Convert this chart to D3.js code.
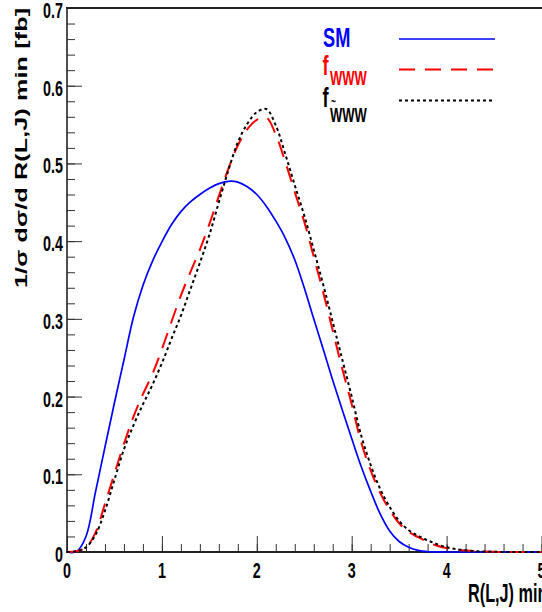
<!DOCTYPE html>
<html>
<head>
<meta charset="utf-8">
<script src="https://cdn.jsdelivr.net/npm/d3@7"></script>
<style>
  body { margin: 0; background: #fff; }
  text { font-family: "Liberation Sans", Arial, sans-serif; font-weight: bold; }
</style>
</head>
<body>
<svg id="chart" width="542" height="612"></svg>
<script>
// R(L,J) min bins
const xVals = [0,0.1,0.2,0.3,0.4,0.5,0.6,0.7,0.8,0.9,1.0,1.1,1.2,1.3,1.4,1.5,1.6,1.7,1.8,1.9,2.0,
  2.1,2.2,2.3,2.4,2.5,2.6,2.7,2.8,2.9,3.0,3.1,3.2,3.3,3.4,3.5,3.6,3.7,3.8,3.9,4.0,
  4.1,4.2,4.3,4.4,4.5,4.6,4.7,4.8,4.9,5.0]

const smVals = [0,0.0005,0.02,0.077,0.135,0.192,0.247,0.302,0.343,0.374,0.399,0.421,0.438,0.4505,0.460,0.468,0.474,0.477,0.476,0.470,0.460,
  0.445,0.426,0.404,0.376,0.340,0.300,0.261,0.221,0.183,0.146,0.110,0.078,0.049,0.027,0.0135,0.006,0.002,0.0005,0.0002,0,
  0,0,0,0,0,0,0,0,0,0]

const fwwwVals = [0,0.001,0.006,0.025,0.062,0.101,0.139,0.174,0.203,0.229,0.261,0.296,0.330,0.360,0.389,0.422,0.458,0.493,0.523,0.544,0.556,
  0.559,0.537,0.502,0.463,0.425,0.380,0.334,0.285,0.236,0.190,0.141,0.105,0.076,0.054,0.037,0.026,0.019,0.013,0.008,0.005,
  0.003,0.0018,0.001,0.0005,0.0002,0,0,0,0,0]

const ftwwwVals = [0,0.001,0.006,0.022,0.053,0.093,0.132,0.163,0.190,0.215,0.243,0.274,0.304,0.338,0.372,0.408,0.450,0.491,0.527,0.551,0.566,
  0.570,0.549,0.512,0.472,0.433,0.389,0.344,0.296,0.248,0.200,0.150,0.112,0.081,0.058,0.040,0.028,0.021,0.015,0.010,0.006,
  0.0037,0.0022,0.0012,0.0006,0.0003,0.0001,0,0,0,0]

const xTickLabels = ["0","1","2","3","4","5"]
const yTickLabels = ["0","0.1","0.2","0.3","0.4","0.5","0.6","0.7"]

const condense = 0.65
const svg = d3.select("#chart")

const x = d3.scaleLinear().domain([0,5]).range([67,541.5])
const y = d3.scaleLinear().domain([0,0.7]).range([552,8])

// ticks, drawn inside the frame
function tickAxis(axis,transform){
	let g = svg.append("g").attr("transform",transform).call(axis)
	g.select(".domain").remove()
	g.selectAll(".tick line").attr("stroke","#333").attr("stroke-width",1)
	g.selectAll(".tick text").remove()
}
tickAxis(d3.axisBottom(x).tickValues(d3.range(0,5.001,1)).tickSize(-16),"translate(0,552)")
tickAxis(d3.axisBottom(x).tickValues(d3.range(0,5.001,0.2)).tickSize(-8),"translate(0,552)")
tickAxis(d3.axisLeft(y).tickValues(d3.range(0,0.7001,0.1)).tickSize(-15),"translate(67,0)")
tickAxis(d3.axisLeft(y).tickValues(d3.range(0,0.7001,0.02)).tickSize(-8),"translate(67,0)")

// frame lines
svg.append("line").attr("x1",66).attr("x2",542).attr("y1",552).attr("y2",552)
	.attr("stroke","#222").attr("stroke-width",2)
svg.append("line").attr("x1",67).attr("x2",67).attr("y1",7).attr("y2",553)
	.attr("stroke","#222").attr("stroke-width",1.6)
svg.append("line").attr("x1",66).attr("x2",542).attr("y1",8).attr("y2",8)
	.attr("stroke","#222").attr("stroke-width",2)

function label(px,py,txt,size,anchor,color){
	let g = svg.append("g").attr("transform","translate("+px+","+py+") scale("+condense+",1)")
	return g.append("text")
		.attr("text-anchor",anchor)
		.style("font-size",size+"px")
		.attr("fill",color || "#000")
		.text(txt)
}

// tick labels
xTickLabels.forEach(t => label(x(+t),578,t,22,"middle"))
yTickLabels.forEach(t => label(63,y(+t)+10,t,22,"end"))

// axis titles
label(468,602,"R(L,J) min",25,"start")
svg.append("g").attr("transform","translate(27,288) rotate(-90) scale(1,"+condense+")")
	.append("text")
	.attr("text-anchor","start")
	.attr("textLength",280)
	.attr("lengthAdjust","spacing")
	.style("font-size","25px")
	.text("1/σ dσ/d R(L,J) min [fb]")

// curves
const series = [
	{name:"SM", vals:smVals, color:"#0000ff", width:1.7, dash:null},
	{name:"fwww", vals:fwwwVals, color:"#ff0000", width:2, dash:"16,10"},
	{name:"ftwww", vals:ftwwwVals, color:"#000000", width:2, dash:"3,3"}
]
const line = d3.line()
	.x(d => x(d[0]))
	.y(d => y(d[1]))
	.curve(d3.curveCatmullRom.alpha(0.5))

for(let s of series){
	svg.append("path")
		.datum(xVals.map((v,i) => [v,s.vals[i]]))
		.attr("d",line)
		.attr("fill","none")
		.attr("stroke",s.color)
		.attr("stroke-width",s.width)
		.attr("stroke-dasharray",s.dash)
}

// legend
const legY = [39,69.5,100.5]
series.forEach((s,i) => {
	svg.append("line")
		.attr("x1",399).attr("x2",495)
		.attr("y1",legY[i]).attr("y2",legY[i])
		.attr("stroke",s.color)
		.attr("stroke-width",s.width)
		.attr("stroke-dasharray",s.dash)
})
label(323,47,"SM",28,"start","#0000ff")
label(322.5,75,"f",28,"start","#ff0000")
label(330,85,"WWW",20,"start","#ff0000")
label(322.5,106.5,"f",28,"start","#000")
label(330,121.5,"WWW",20,"start","#000")
label(331,106,"~",13,"start","#000")
</script>
</body>
</html>
